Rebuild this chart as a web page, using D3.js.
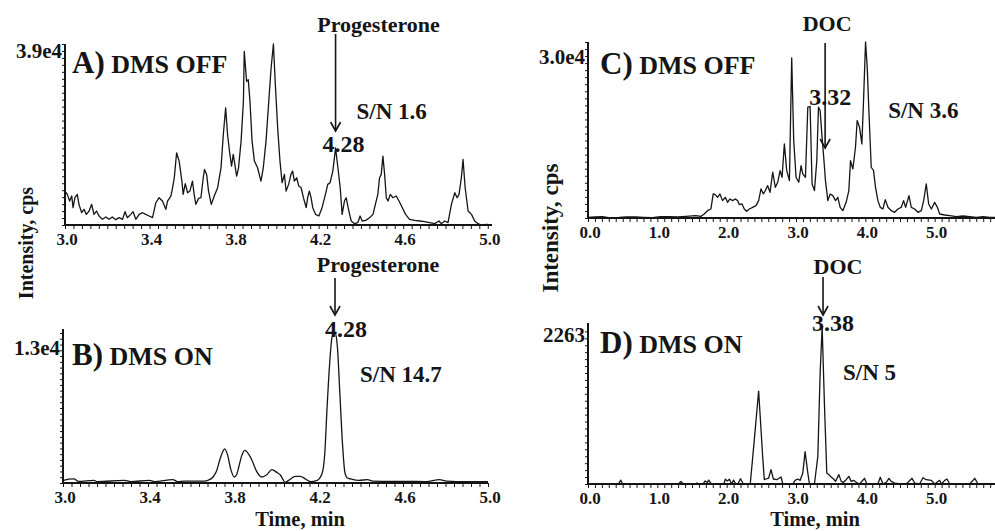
<!DOCTYPE html>
<html>
<head>
<meta charset="utf-8">
<script src="https://cdn.jsdelivr.net/npm/d3@7"></script>
<style>
  body { margin: 0; background: #fff; }
  svg { display: block; font-family: "Liberation Serif", "Times New Roman", serif; font-weight: bold; }
</style>
</head>
<body>
<svg id="chart" width="995" height="531"></svg>
<script>
// A) progesterone, DMS off
var timeA = [3.000,3.011,3.022,3.032,3.038,3.047,3.058,3.066,3.079,3.090,
    3.101,3.114,3.126,3.137,3.149,3.161,3.177,3.193,3.209,3.224,
    3.240,3.256,3.272,3.284,3.295,3.311,3.322,3.335,3.351,3.367,
    3.382,3.398,3.414,3.430,3.445,3.461,3.477,3.485,3.501,3.509,
    3.517,3.528,3.540,3.553,3.559,3.569,3.580,3.591,3.603,3.611,
    3.619,3.632,3.643,3.654,3.660,3.670,3.679,3.692,3.706,3.722,
    3.738,3.749,3.760,3.769,3.780,3.788,3.796,3.806,3.812,3.821,
    3.833,3.844,
    3.848,3.859,3.867,3.875,3.885,3.896,3.911,3.927,3.938,3.951,
    3.964,3.975,3.986,3.995,4.006,4.017,4.027,4.038,4.046,4.058,
    4.069,4.077,4.085,4.096,4.106,4.117,4.128,4.141,4.148,4.156,
    4.164,4.172,4.185,4.201,4.216,4.232,4.243,4.254,4.267,4.280,
    4.291,4.302,4.311,4.322,4.330,4.343,4.354,4.370,4.385,4.396,
    4.406,4.422,4.441,4.457,4.472,4.480,4.488,4.496,4.504,4.512,
    4.520,4.528,4.539,4.551,4.567,4.580,4.596,4.611,4.630,4.654,
    4.678,4.701,4.725,4.749,4.769,4.780,4.796,4.812,4.828,4.844,
    4.855,4.864,4.875,4.883,4.893,4.907,4.923,4.938,4.954,4.970,
    4.994,5.017];
var cpsA = [7310,6600,5160,6240,3730,5880,6600,4450,2650,3370,
    2290,3010,4450,2290,3010,1940,1220,1720,1220,1720,
    1150,1580,1220,2870,1580,2290,2870,1220,2290,2650,
    2290,1940,1580,4800,5880,5160,3370,5160,6240,8030,
    10180,15560,13770,9460,6600,8890,6950,7310,9460,6600,
    4450,5740,5880,10180,11970,10900,7310,4450,6240,8030,
    12330,19500,25240,19500,15200,12690,15200,12330,10540,12330,
    18070,26670,
    37430,30970,31330,26670,18070,13770,12330,9460,12330,18070,
    26670,33840,39000,30260,20940,13770,9110,10900,7310,8750,
    10900,11620,9460,10180,8390,8030,5880,3730,5880,7310,
    5880,3730,2290,1940,3730,6600,8750,9110,11620,16630,
    12330,8030,2290,5160,5880,3010,860,290,500,1940,
    860,1000,1580,2290,5160,6600,10180,10900,14840,10900,
    5880,5160,6600,5880,6240,5160,3730,2290,1220,1000,
    860,720,500,290,860,290,860,500,4450,6950,
    5880,6600,10180,14120,8030,3010,2290,860,290,0,
    140,0];

// B) progesterone, DMS on
var timeB = [3.000,3.003,3.051,3.074,3.145,3.161,3.288,3.319,3.406,3.430,
    3.517,3.540,3.572,3.635,3.667,3.682,3.706,3.722,3.738,3.749,
    3.761,3.774,3.790,3.806,3.817,3.828,3.840,3.856,
    3.888,3.911,3.935,3.959,3.983,4.006,4.022,4.046,4.062,4.093,
    4.117,4.141,4.164,4.196,4.220,4.232,4.243,4.254,4.267,4.280,
    4.291,4.302,4.314,4.327,4.338,4.354,4.393,4.433,4.457,4.536,
    4.615,4.709,4.772,4.804,4.899,5.000];
var cpsB = [140,230,350,140,230,120,230,120,230,120,
    290,120,170,170,170,230,520,1010,2020,2600,
    2950,2460,1160,520,720,1450,2310,2830,
    2020,1010,520,720,1160,920,720,60,230,580,
    580,350,120,230,870,2600,6650,10120,12720,13000,
    11850,8090,3760,870,430,350,230,290,170,140,
    140,120,290,170,120,120];

// C) DOC, DMS off
var timeC = [0.000,0.100,0.207,0.300,0.448,0.550,0.689,0.800,0.930,1.050,
    1.171,1.300,1.411,1.556,1.628,1.676,1.724,1.773,1.806,1.835,
    1.869,1.903,1.941,1.980,2.013,2.047,2.086,2.124,2.158,2.182,
    2.221,2.254,2.288,
    2.327,2.375,2.423,2.461,2.495,2.529,2.558,2.591,2.625,2.664,
    2.702,2.736,2.770,2.799,2.832,2.866,2.905,2.938,2.967,3.001,
    3.040,3.073,3.097,3.136,3.170,3.203,3.232,3.266,3.300,3.324,
    3.348,3.372,3.396,3.425,3.459,3.493,3.531,3.570,3.603,3.637,
    3.675,3.723,3.762,3.786,3.820,3.858,3.882,3.916,3.950,3.974,
    4.003,4.027,4.051,4.085,4.118,4.147,4.181,4.215,4.254,4.287,
    4.326,4.374,4.422,4.470,4.518,4.552,4.581,4.629,4.663,4.711,
    4.759,4.807,4.841,4.879,4.913,4.952,5.000,5.039,5.072,5.145,
    5.217,5.313,5.410,5.506,5.602,5.699,5.795,5.867];
var cpsC = [110,170,230,60,110,200,170,110,60,230,
    230,170,280,400,280,680,1250,1540,4100,3980,
    3530,4100,2960,3530,2670,3240,2960,3240,2960,2280,
    2390,1540,1140,
    1540,1820,2110,2960,4950,4100,4670,5520,4380,7800,
    5230,6090,8080,6940,12630,8080,6370,27310,13200,6940,
    6090,8930,7510,6940,18890,19000,5800,4670,9790,18890,
    18320,14340,10920,6370,2960,4100,3810,2960,3530,1820,
    1250,2670,4670,9790,8360,12060,16610,15480,12630,20030,
    30000,25720,18320,8650,8080,5230,2960,1820,1540,3130,
    1820,1250,970,1540,1820,2960,1820,3810,1820,1540,
    970,1250,2960,5800,2390,1540,2670,1820,680,510,
    400,230,340,230,110,230,110,110];

// D) DOC, DMS on
var timeD = [0.000,0.440,0.472,0.500,1.300,1.340,1.380,1.550,1.570,1.600,
    1.660,1.690,1.720,1.740,1.780,1.960,1.980,2.010,2.040,2.070,
    2.100,2.130,2.160,2.200,2.240,2.300,
    2.340,2.399,2.461,2.519,2.543,2.567,2.606,2.639,2.674,2.722,
    2.785,2.809,2.953,2.987,3.026,3.060,3.098,3.131,3.170,3.194,
    3.266,3.315,3.348,3.377,3.411,3.444,3.473,3.507,3.541,3.570,
    3.618,3.652,3.685,3.724,3.762,3.796,3.830,3.868,3.916,3.988,
    4.022,4.181,4.215,4.254,4.302,4.340,4.374,4.422,4.518,4.591,
    4.673,4.711,4.783,4.831,4.879,4.952,5.000,5.072,5.096,5.145,
    5.178,5.217,5.506,5.578,5.626,5.867];
var cpsD = [0,0,55,0,0,35,0,0,15,0,
    0,45,20,55,0,0,70,45,70,0,
    55,0,0,75,0,0,
    0,640,1340,400,62,72,86,207,72,62,
    101,0,0,53,72,53,159,466,159,0,
    0,400,1600,2263,1120,159,135,101,72,38,
    135,38,24,62,110,38,53,24,0,82,
    0,0,96,0,24,82,38,14,0,0,
    82,14,0,91,62,53,0,53,0,53,
    72,0,0,82,0,0];

var yMax = [39000, 13000, 30000, 2263];
var maxLabels = ['3.9e4', '1.3e4', '3.0e4', '2263'];
var panelLetters = ['A)', 'B)', 'C)', 'D)'];
var modeLabels = ['DMS OFF', 'DMS ON', 'DMS OFF', 'DMS ON'];
var analytes = ['Progesterone', 'Progesterone', 'DOC', 'DOC'];
var arrowAt = [4.28, 4.28, 3.42, 3.39];
var rtLabels = ['4.28', '4.28', '3.32', '3.38'];
var snLabels = ['S/N 1.6', 'S/N 14.7', 'S/N 3.6', 'S/N 5'];
var xTicksAB = [3.0, 3.4, 3.8, 4.2, 4.6, 5.0];
var xTicksCD = [0, 1, 2, 3, 4, 5];

// page layout, pixels
var panels = [
    {t: timeA, v: cpsA, xDom: [3, 5.02], x0: 65, x1: 492, yBase: 225, yTop: 44, yPeak: 44,
     xStep: 0.04, yStep: 1500, ticks: xTicksAB, curve: d3.curveLinear,
     title: [72, 73], maxY: 58, arrow: [34, 131], name: [43, 32], rt: [8, 152], sn: [21, 119]},
    {t: timeB, v: cpsB, xDom: [3, 5.0], x0: 63, x1: 488, yBase: 483, yTop: 329, yPeak: 333,
     xStep: 0.04, yStep: 500, ticks: xTicksAB, curve: d3.curveMonotoneX,
     title: [72, 365], maxY: 355, arrow: [278, 315], name: [43, 272], rt: [11, 337], sn: [25, 382]},
    {t: timeC, v: cpsC, xDom: [0, 5.87], x0: 588, x1: 995, yBase: 218, yTop: 42, yPeak: 42,
     xStep: 0.1, yStep: 1200, ticks: xTicksCD, curve: d3.curveLinear,
     title: [600, 74], maxY: 64, arrow: [43, 148], name: [2, 31], rt: [5, 105], sn: [63, 118]},
    {t: timeD, v: cpsD, xDom: [0, 5.87], x0: 588, x1: 995, yBase: 484, yTop: 323, yPeak: 327,
     xStep: 0.1, yStep: 100, ticks: xTicksCD, curve: d3.curveLinear,
     title: [600, 353], maxY: 342, arrow: [277, 315], name: [15, 274], rt: [10, 331], sn: [20, 380]}
];

var ink = '#151515';
var svg = d3.select('#chart');

panels.forEach(function (p, i) {
    var x = d3.scaleLinear().domain(p.xDom).range([p.x0, p.x1]);
    var y = d3.scaleLinear().domain([0, yMax[i]]).range([p.yBase, p.yPeak]);
    var g = svg.append('g');

    // minor ticks
    var nx = Math.floor((p.xDom[1] - p.xDom[0]) / p.xStep + 1e-6);
    var xMinor = d3.range(nx + 1).map(function (k) { return p.xDom[0] + k * p.xStep; });
    g.append('g')
        .attr('transform', 'translate(0,' + p.yBase + ')')
        .call(d3.axisBottom(x).tickValues(xMinor).tickSize(4).tickFormat(''))
        .call(function (a) { a.select('.domain').remove(); a.selectAll('line').attr('stroke', ink); });

    var ny = Math.floor(yMax[i] / p.yStep);
    var yMinor = d3.range(ny + 1).map(function (k) { return k * p.yStep; });
    g.append('g')
        .attr('transform', 'translate(' + p.x0 + ',0)')
        .call(d3.axisLeft(y).tickValues(yMinor).tickSize(3).tickFormat(''))
        .call(function (a) { a.select('.domain').remove(); a.selectAll('line').attr('stroke', ink); });

    // axis lines
    g.append('line')
        .attr('x1', p.x0).attr('x2', p.x0).attr('y1', p.yTop).attr('y2', p.yBase + 1)
        .attr('stroke', ink).attr('stroke-width', 2);
    g.append('line')
        .attr('x1', p.x0 - 1).attr('x2', p.x1).attr('y1', p.yBase).attr('y2', p.yBase)
        .attr('stroke', ink).attr('stroke-width', 2);

    // tick labels
    g.selectAll('text.xlab')
        .data(p.ticks)
        .enter().append('text')
        .attr('class', 'xlab')
        .attr('x', function (d) { return x(d) + 2; })
        .attr('y', p.yBase + 20)
        .attr('text-anchor', 'middle')
        .attr('font-size', 17)
        .attr('fill', ink)
        .text(d3.format('.1f'));

    // chromatogram
    var line = d3.line()
        .x(function (d) { return x(d[0]); })
        .y(function (d) { return y(d[1]); })
        .curve(p.curve);
    g.append('path')
        .datum(d3.zip(p.t, p.v).filter(function (d) { return d[0] <= p.xDom[1]; }))
        .attr('d', line)
        .attr('fill', 'none')
        .attr('stroke', ink)
        .attr('stroke-width', 1.3)
        .attr('stroke-linejoin', 'round');

    // max intensity label
    g.append('text')
        .attr('x', p.x0 - 3).attr('y', p.maxY)
        .attr('text-anchor', 'end')
        .attr('font-size', 21)
        .attr('fill', ink)
        .text(maxLabels[i]);

    // panel title
    var title = g.append('text')
        .attr('x', p.title[0]).attr('y', p.title[1])
        .attr('fill', ink);
    title.append('tspan').attr('font-size', 31).text(panelLetters[i]);
    title.append('tspan').attr('font-size', 26).text(' ' + modeLabels[i]);

    // analyte arrow
    var ax = x(arrowAt[i]);
    g.append('text')
        .attr('x', ax + p.name[0]).attr('y', p.name[1])
        .attr('text-anchor', 'middle')
        .attr('font-size', 22)
        .attr('fill', ink)
        .text(analytes[i]);
    g.append('line')
        .attr('x1', ax).attr('x2', ax).attr('y1', p.arrow[0]).attr('y2', p.arrow[1])
        .attr('stroke', ink).attr('stroke-width', 1.6);
    g.append('path')
        .attr('d', 'M' + (ax - 5) + ',' + (p.arrow[1] - 9) + 'L' + ax + ',' + p.arrow[1] + 'L' + (ax + 5) + ',' + (p.arrow[1] - 9))
        .attr('fill', 'none').attr('stroke', ink).attr('stroke-width', 1.6);
    g.append('text')
        .attr('x', ax + p.rt[0]).attr('y', p.rt[1])
        .attr('text-anchor', 'middle')
        .attr('font-size', 24)
        .attr('fill', ink)
        .text(rtLabels[i]);
    g.append('text')
        .attr('x', ax + p.sn[0]).attr('y', p.sn[1])
        .attr('font-size', 23)
        .attr('fill', ink)
        .text(snLabels[i]);
});

// shared axis titles
var axisTitles = [
    {text: 'Intensity, cps', x: 33, y: 243, size: 20, rotate: true},
    {text: 'Intensity, cps', x: 558, y: 228, size: 23, rotate: true},
    {text: 'Time, min', x: 300, y: 526, size: 20.5, rotate: false},
    {text: 'Time, min', x: 815, y: 526, size: 20.5, rotate: false}
];
svg.selectAll('text.axis-title')
    .data(axisTitles)
    .enter().append('text')
    .attr('class', 'axis-title')
    .attr('text-anchor', 'middle')
    .attr('font-size', function (d) { return d.size; })
    .attr('fill', ink)
    .attr('transform', function (d) {
        return 'translate(' + d.x + ',' + d.y + ')' + (d.rotate ? 'rotate(-90)' : '');
    })
    .text(function (d) { return d.text; });
</script>
</body>
</html>
